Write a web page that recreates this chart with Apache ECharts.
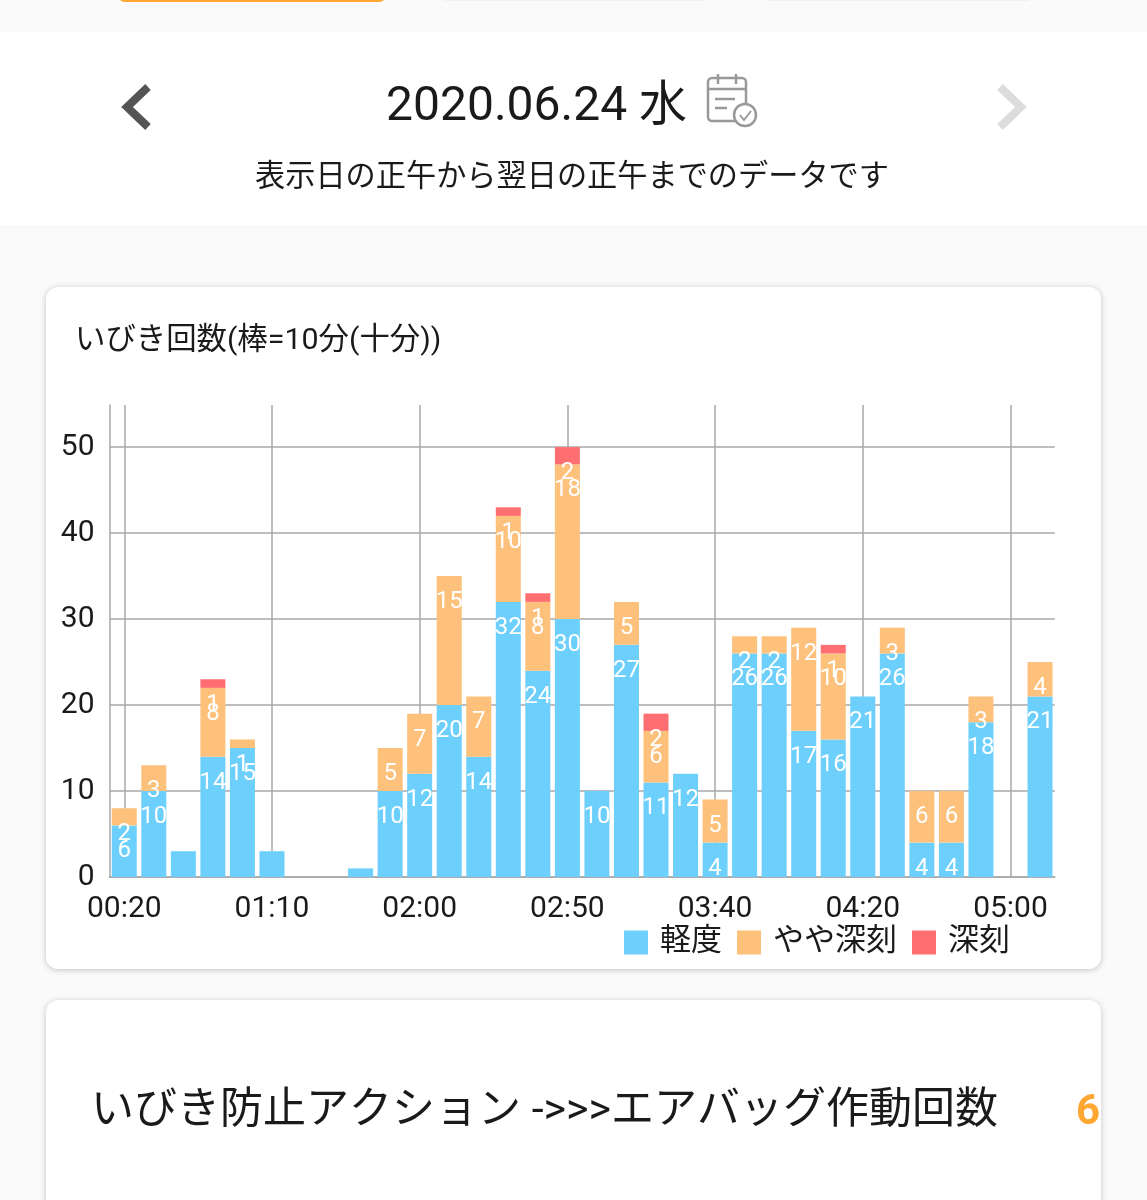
<!DOCTYPE html>
<html>
<head>
<meta charset="utf-8">
<style>
  html, body { margin: 0; padding: 0; background: #fafafa; }
  #chart { width: 1147px; height: 1200px; }
</style>
<script src="https://cdn.jsdelivr.net/npm/echarts@6/dist/echarts.min.js"></script>
</head>
<body>
<div id="chart"></div>
<script>
const times = ["00:20","00:30","00:40","00:50","01:00","01:10","01:20","01:30","01:40","01:50",
  "02:00","02:10","02:20","02:30","02:40","02:50","03:00","03:10","03:20","03:30",
  "03:40","03:50","03:55","04:00","04:10","04:20","04:30","04:35","04:40","04:50",
  "05:00","05:10"];
const mild = [6,10,3,14,15,3,0,0,1,10,12,20,14,32,24,30,10,27,11,12,4,26,26,17,16,21,26,4,4,18,0,21];
const moderate = [2,3,0,8,1,0,0,0,0,5,7,15,7,10,8,18,0,5,6,0,5,2,2,12,10,0,3,6,6,3,0,4];
const severe = [0,0,0,1,0,0,0,0,0,0,0,0,0,1,1,2,0,0,2,0,0,0,0,0,1,0,0,0,0,0,0,0];

const fontFamily = 'Roboto, "Noto Sans CJK JP", sans-serif';
const gridColor = "#a8a8a8";
const textColor = "#1a1a1a";

// the app drops labels on blue bars too short to hold them
function barSeries(name, values, color, minLabel) {
  return {
    name: name,
    type: "bar",
    stack: "snore",
    barWidth: 25,
    data: values,
    itemStyle: { color: color },
    label: {
      show: true,
      position: "insideTop",
      distance: 14,
      color: "#fff",
      fontSize: 24,
      fontFamily: fontFamily,
      formatter: p => (p.value >= minLabel ? p.value : "")
    }
  };
}

function pageText(x, y, text, size, extra) {
  return {
    type: "text",
    x: x,
    y: y,
    style: Object.assign({
      text: text,
      fontSize: size,
      fontFamily: fontFamily,
      fill: textColor,
      verticalAlign: "middle"
    }, extra || {})
  };
}

const chart = echarts.init(document.getElementById("chart"));
chart.setOption({
  animation: false,
  backgroundColor: "#fafafa",
  grid: { left: 109.5, top: 405, width: 945.3, height: 472 },
  legend: {
    left: 619,
    top: 922,
    icon: "rect",
    itemWidth: 24,
    itemHeight: 24,
    itemGap: 15,
    textStyle: { fontSize: 31, fontFamily: fontFamily, color: textColor, padding: [2, 0, 0, 7] },
    data: ["軽度", "やや深刻", "深刻"]
  },
  xAxis: {
    type: "category",
    data: times,
    axisLine: { lineStyle: { color: gridColor, width: 1.5 } },
    axisTick: { show: false },
    axisLabel: { interval: 4, fontSize: 30, color: textColor, margin: 17, fontFamily: fontFamily },
    splitLine: { show: true, interval: 4, alignWithLabel: true, lineStyle: { color: gridColor, width: 1.5 } }
  },
  yAxis: {
    type: "value",
    min: 0,
    max: 54.9,
    interval: 10,
    axisLine: { show: true, lineStyle: { color: gridColor, width: 1.5 } },
    axisTick: { show: false },
    axisLabel: { fontSize: 30, color: textColor, margin: 15, fontFamily: fontFamily, showMaxLabel: false, padding: [4, 0, 0, 0] },
    splitLine: { showMaxLine: false, lineStyle: { color: gridColor, width: 1.5 } }
  },
  series: [
    barSeries("軽度", mild, "#6dcffb", 4),
    barSeries("やや深刻", moderate, "#fdc17b", 1),
    barSeries("深刻", severe, "#ff6e70", 1)
  ],
  graphic: [
    // tabs cut off at the top of the screen
    { type: "rect", z: -10, shape: { x: 118, y: -12, width: 268, height: 14, r: 7 }, style: { fill: "#ffa733" } },
    { type: "rect", z: -10, shape: { x: 440, y: -12, width: 268, height: 13, r: 7 }, style: { fill: "#eef0f4" } },
    { type: "rect", z: -10, shape: { x: 765, y: -12, width: 268, height: 13, r: 7 }, style: { fill: "#eef0f4" } },
    // header band
    { type: "rect", z: -10, shape: { x: 0, y: 32, width: 1147, height: 193 }, style: { fill: "#fff" } },
    // cards
    { type: "rect", z: -10, shape: { x: 46, y: 287, width: 1055, height: 682, r: 12 },
      style: { fill: "#fff", shadowBlur: 6, shadowOffsetY: 1, shadowColor: "rgba(0,0,0,0.22)" } },
    { type: "rect", z: -10, shape: { x: 46, y: 1000, width: 1055, height: 230, r: 12 },
      style: { fill: "#fff", shadowBlur: 6, shadowOffsetY: 1, shadowColor: "rgba(0,0,0,0.22)" } },
    // prev / next arrows
    { type: "polyline", shape: { points: [[148, 87], [127, 107], [148, 127]] }, style: { stroke: "#555", lineWidth: 8, fill: null } },
    { type: "polyline", shape: { points: [[1000, 87], [1021, 107], [1000, 127]] }, style: { stroke: "#dcdcdc", lineWidth: 8, fill: null } },
    // calendar icon
    { type: "rect", shape: { x: 708, y: 78, width: 38, height: 43, r: 4 }, style: { fill: "none", stroke: "#999", lineWidth: 2.5 } },
    { type: "line", shape: { x1: 708, y1: 89, x2: 746, y2: 89 }, style: { stroke: "#999", lineWidth: 2.5 } },
    { type: "line", shape: { x1: 718, y1: 74, x2: 718, y2: 84 }, style: { stroke: "#999", lineWidth: 2.5 } },
    { type: "line", shape: { x1: 736, y1: 74, x2: 736, y2: 84 }, style: { stroke: "#999", lineWidth: 2.5 } },
    { type: "line", shape: { x1: 715, y1: 99, x2: 735, y2: 99 }, style: { stroke: "#999", lineWidth: 2.5 } },
    { type: "line", shape: { x1: 715, y1: 108, x2: 727, y2: 108 }, style: { stroke: "#999", lineWidth: 2.5 } },
    { type: "circle", shape: { cx: 745, cy: 115, r: 11 }, style: { fill: "#fff", stroke: "#999", lineWidth: 2.5 } },
    { type: "polyline", shape: { points: [[740, 115], [744, 120], [751, 111]] }, style: { stroke: "#999", lineWidth: 2, fill: null } },
    // text
    pageText(386, 108, "2020.06.24 水", 48),
    pageText(255, 178, "表示日の正午から翌日の正午までのデータです", 30.2),
    pageText(75, 341, "いびき回数(棒=10分(十分))", 30.4),
    pageText(91, 1112, "いびき防止アクション ->>>エアバッグ作動回数", 43),
    pageText(1076, 1113, "6", 42, { fill: "#ffa733", fontWeight: "bold" })
  ]
});
</script>
</body>
</html>
